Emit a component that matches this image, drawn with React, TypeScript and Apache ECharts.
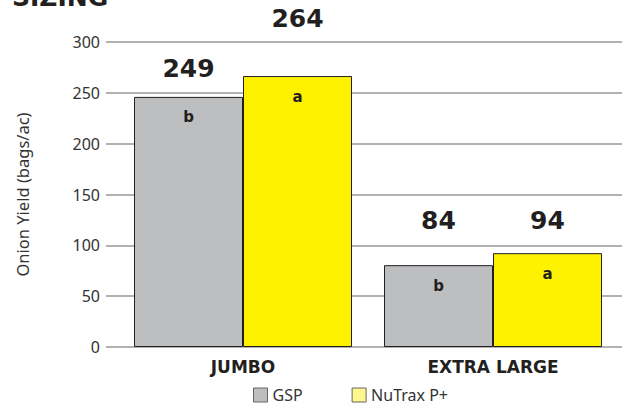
import React, { useEffect, useRef } from "react";
import * as echarts from "echarts";

const categories = ["JUMBO", "EXTRA LARGE"];
const seriesNames = ["GSP", "NuTrax P+"];
const gspValues = [246, 80.5];
const nutraxValues = [266.5, 92.3];
const gspTotals = ["249", "84"];
const nutraxTotals = ["264", "94"];
const gspLetters = ["b", "b"];
const nutraxLetters = ["a", "a"];
const yTicks = [0, 50, 100, 150, 200, 250, 300];

const gspLabelGap = [16, 32];
const nutraxLabelGap = [45, 20];

export default function App() {
  const ref = useRef<HTMLDivElement>(null);
  useEffect(() => {
    if (!ref.current) return;
    const chart = echarts.init(ref.current, null, { renderer: "svg" });
    const GRAY = "#bcbec0";
    const YELLOW = "#fff200";
    const BORDER = "#231f20";
    const gridTop = 42;
    const gridBottom = 66;
    const bigLabel = {
      show: true,
      position: "top" as const,
      fontFamily: "DejaVu Sans",
      fontWeight: "bold" as const,
      fontSize: 25,
      color: "#231f20",
    };
    const letterLabel = {
      show: true,
      position: "insideTop" as const,
      distance: 13,
      fontFamily: "DejaVu Sans",
      fontWeight: "bold" as const,
      fontSize: 15,
      color: "#231f20",
    };
    const option: any = {
      animation: false,
      backgroundColor: "#ffffff",
      graphic: [
        {
          type: "text",
          left: 12,
          top: -15,
          style: {
            text: "SIZING",
            fontFamily: "DejaVu Sans",
            fontWeight: "bold",
            fontSize: 25,
            fill: "#231f20",
          },
        },
      ],
      legend: {
        left: 248,
        top: 382,
        itemWidth: 14,
        itemHeight: 14,
        itemGap: 49,
        textStyle: { fontFamily: "Noto Sans", fontSize: 16, lineHeight: 16, color: "#333" },
        data: [
          { name: seriesNames[0], icon: "rect", itemStyle: { color: GRAY, borderColor: "#666", borderWidth: 1 } },
          { name: seriesNames[1], icon: "rect", itemStyle: { color: "#fff68f", borderColor: "#666", borderWidth: 1 } },
        ],
      },
      grid: [
        { left: 106, right: 0, top: gridTop, bottom: gridBottom },
        { left: 118, right: 4, top: gridTop, bottom: gridBottom },
        { left: 118, right: 4, top: gridTop, bottom: gridBottom },
      ],
      xAxis: [
        { gridIndex: 0, type: "value", show: false, min: 0, max: 1 },
        {
          gridIndex: 1,
          type: "category",
          data: categories,
          axisLine: { show: false },
          axisTick: { show: false },
          axisLabel: {
            margin: 11,
            fontFamily: "DejaVu Sans",
            fontWeight: "bold",
            fontSize: 17,
            color: "#231f20",
          },
        },
        { gridIndex: 2, type: "category", data: categories, show: false },
      ],
      yAxis: [
        {
          gridIndex: 0,
          type: "value",
          min: yTicks[0],
          max: yTicks[yTicks.length - 1],
          interval: 50,
          name: "Onion Yield (bags/ac)",
          nameLocation: "middle",
          nameGap: 75,
          nameTextStyle: { fontFamily: "Noto Sans", fontSize: 16.5, color: "#333" },
          axisLine: { show: false },
          axisTick: { show: false },
          axisLabel: { margin: 6, fontFamily: "Noto Sans", fontSize: 16, color: "#333" },
          splitLine: { show: true, lineStyle: { color: "#999", width: 1.5 } },
        },
        { gridIndex: 1, type: "value", min: 0, max: 300, show: false },
        { gridIndex: 2, type: "value", min: 0, max: 300, show: false },
      ],
      series: [
        {
          name: seriesNames[0],
          type: "bar",
          xAxisIndex: 1,
          yAxisIndex: 1,
          barGap: "0%",
          barCategoryGap: "12.8%",
          data: gspValues.map((v, i) => ({ value: v, label: { formatter: gspLetters[i] } })),
          itemStyle: { color: GRAY, borderColor: BORDER, borderWidth: 1 },
          label: letterLabel,
        },
        {
          name: seriesNames[1],
          type: "bar",
          xAxisIndex: 1,
          yAxisIndex: 1,
          barGap: "0%",
          barCategoryGap: "12.8%",
          data: nutraxValues.map((v, i) => ({ value: v, label: { formatter: nutraxLetters[i] } })),
          itemStyle: { color: YELLOW, borderColor: BORDER, borderWidth: 1 },
          label: letterLabel,
        },
        {
          name: "gspTotals",
          type: "bar",
          xAxisIndex: 2,
          yAxisIndex: 2,
          barGap: "0%",
          barCategoryGap: "12.8%",
          silent: true,
          data: gspValues.map((v, i) => ({
            value: v,
            label: { formatter: gspTotals[i], distance: gspLabelGap[i] },
          })),
          itemStyle: { color: "transparent" },
          label: bigLabel,
        },
        {
          name: "nutraxTotals",
          type: "bar",
          xAxisIndex: 2,
          yAxisIndex: 2,
          barGap: "0%",
          barCategoryGap: "12.8%",
          silent: true,
          data: nutraxValues.map((v, i) => ({
            value: v,
            label: { formatter: nutraxTotals[i], distance: nutraxLabelGap[i] },
          })),
          itemStyle: { color: "transparent" },
          label: bigLabel,
        },
      ],
    };
    chart.setOption(option);
    return () => chart.dispose();
  }, []);
  return (
    <div
      ref={ref}
      style={{ position: "fixed", left: 0, top: 0, width: 622, height: 413 }}
    />
  );
}
